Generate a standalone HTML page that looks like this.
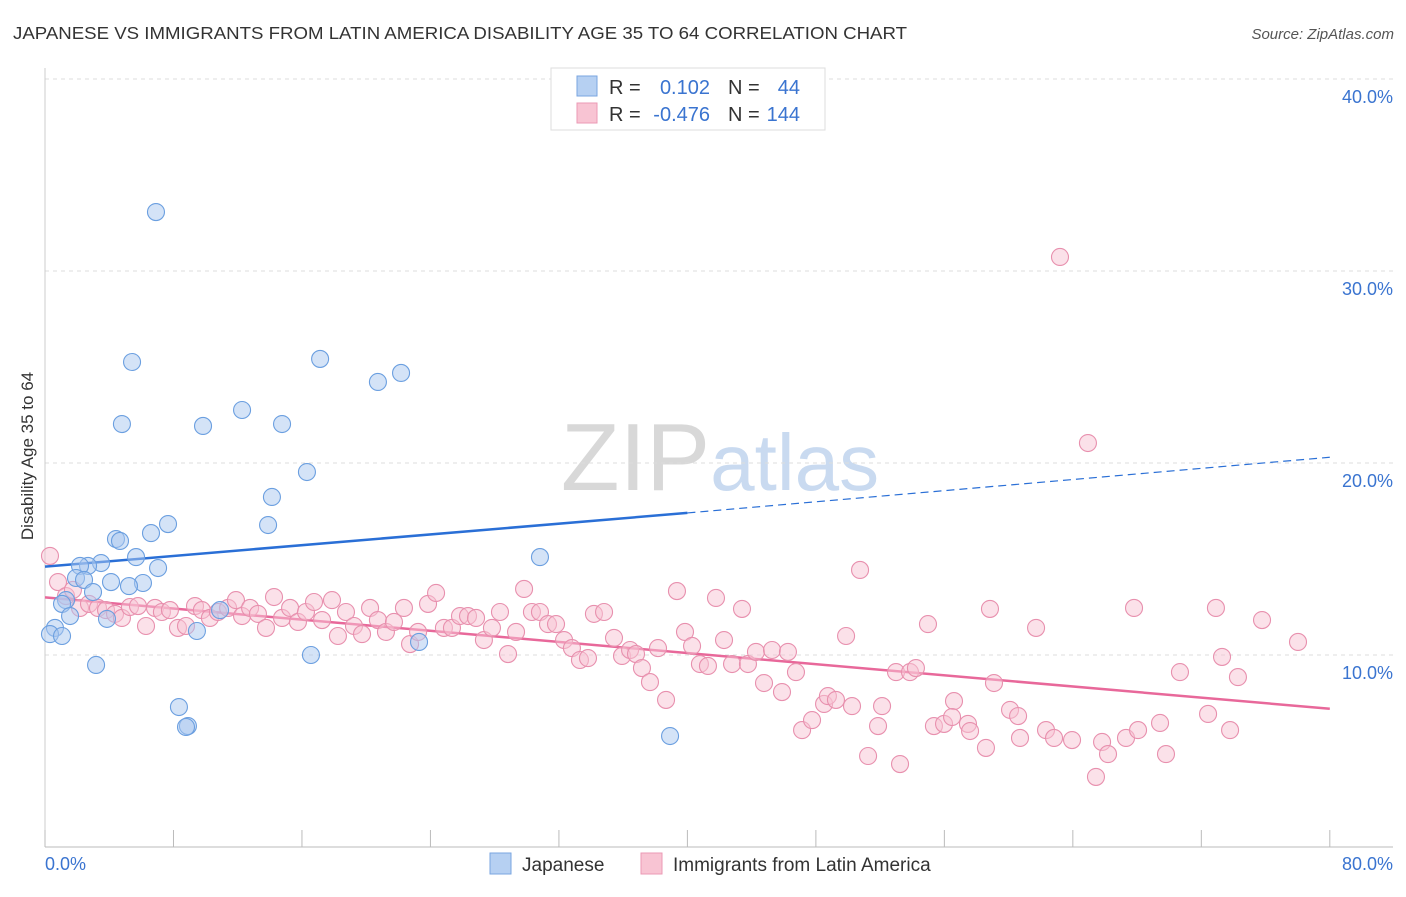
<!DOCTYPE html>
<html><head><meta charset="utf-8">
<style>
body{margin:0;background:#fff;font-family:"Liberation Sans",sans-serif;}
svg text{font-family:"Liberation Sans",sans-serif;}
</style></head>
<body>
<svg id="chart" width="1406" height="892" viewBox="0 0 1406 892" xmlns="http://www.w3.org/2000/svg">
<text x="13" y="39" font-size="17.5" fill="#333" textLength="894" lengthAdjust="spacingAndGlyphs">JAPANESE VS IMMIGRANTS FROM LATIN AMERICA DISABILITY AGE 35 TO 64 CORRELATION CHART</text>
<text x="1394" y="39" font-size="15" fill="#555" text-anchor="end" font-style="italic">Source: ZipAtlas.com</text>
<text x="720" y="490" font-size="96" text-anchor="middle" fill="#ddd" font-family="Liberation Serif"><tspan fill="#d8d8d8">ZIP</tspan><tspan fill="#c9daf0" font-family="Liberation Sans" font-size="80">atlas</tspan></text>
<g id="grid"></g>
<g id="axes"></g>
<g id="trend"></g>
<g id="pts"></g>
<text transform="translate(33,456) rotate(-90)" font-size="17" fill="#333" text-anchor="middle">Disability Age 35 to 64</text>
<g>
<rect x="551" y="68" width="274" height="62" fill="#fff" stroke="#ddd"/>
<rect x="577" y="76" width="20" height="20" fill="#b6d0f2" stroke="#7aa6e0"/>
<rect x="577" y="103" width="20" height="20" fill="#f8c4d3" stroke="#eb9ab5"/>
<text x="609" y="94" font-size="20" fill="#333">R =</text>
<text x="710" y="94" font-size="20" fill="#3a74d0" text-anchor="end">0.102</text>
<text x="728" y="94" font-size="20" fill="#333">N =</text>
<text x="800" y="94" font-size="20" fill="#3a74d0" text-anchor="end">44</text>
<text x="609" y="121" font-size="20" fill="#333">R =</text>
<text x="710" y="121" font-size="20" fill="#3a74d0" text-anchor="end">-0.476</text>
<text x="728" y="121" font-size="20" fill="#333">N =</text>
<text x="800" y="121" font-size="20" fill="#3a74d0" text-anchor="end">144</text>
</g>
<g>
<rect x="490" y="853" width="21" height="21" fill="#b6d0f2" stroke="#7aa6e0"/>
<text x="522" y="871" font-size="19" fill="#333">Japanese</text>
<rect x="641" y="853" width="21" height="21" fill="#f8c4d3" stroke="#eb9ab5"/>
<text x="673" y="871" font-size="19" fill="#333">Immigrants from Latin America</text>
</g>
</svg>
<script>
const yTicks=[10,20,30,40];
const yTickLabels=["10.0%","20.0%","30.0%","40.0%"];
const xTicks=[0,8,16,24,32,40,48,56,64,72,80];
const blueX=[6.91,5.42,4.79,9.84,12.27,14.76,17.13,20.73,22.17,16.31,14.13,13.89,7.66,6.60,4.42,4.67,5.67,7.04,6.10,5.23,4.11,3.49,2.68,2.18,1.93,2.43,2.99,1.31,1.06,1.56,3.86,9.46,0.62,0.31,1.06,3.18,8.34,8.90,8.78,16.56,23.29,30.82,38.92,10.90];
const blueY=[33.07,25.26,22.03,21.93,22.76,22.03,25.42,24.22,24.69,19.53,18.23,16.77,16.82,16.35,16.04,15.94,15.10,14.53,13.75,13.59,13.80,14.79,14.64,14.64,14.01,13.91,13.28,12.86,12.66,12.03,11.88,11.25,11.41,11.09,10.99,9.48,7.29,6.30,6.25,10.00,10.68,15.10,5.78,12.34];
const pinkX=[0.31,0.81,1.31,1.74,2.18,2.74,3.30,3.80,4.36,4.79,5.29,5.79,6.29,6.85,7.28,7.78,8.28,8.78,9.34,9.77,10.27,10.77,11.40,11.89,12.27,12.77,13.26,13.76,14.26,14.76,15.26,15.75,16.25,16.75,17.25,17.87,18.24,18.74,19.24,19.74,20.24,20.73,21.23,21.73,22.35,22.73,23.23,23.85,24.35,24.84,25.34,25.84,26.34,26.84,27.33,27.83,28.33,28.83,29.33,29.83,30.32,30.82,31.32,31.82,32.32,32.81,33.31,33.81,34.18,34.81,35.43,35.93,36.43,36.80,37.17,37.67,38.17,38.67,39.35,39.85,40.29,40.78,41.28,41.78,42.28,42.78,43.40,43.77,44.27,44.77,45.27,45.89,46.26,46.76,47.14,47.76,48.51,48.75,49.25,49.88,50.25,50.75,51.25,51.87,52.12,52.99,53.24,53.86,54.23,54.98,55.35,55.98,56.60,56.48,57.47,57.60,58.59,58.84,59.09,60.09,60.59,60.71,61.71,62.33,62.83,63.20,63.95,64.94,65.44,65.82,66.19,67.31,67.81,68.06,69.43,69.80,70.67,72.42,72.91,73.29,73.79,74.28,75.78,78.02];
const pinkY=[15.16,13.80,13.07,13.39,12.45,12.66,12.45,12.34,12.14,11.93,12.50,12.55,11.51,12.45,12.24,12.34,11.41,11.51,12.55,12.34,11.93,12.24,12.45,12.86,12.03,12.45,12.14,11.41,13.02,11.93,12.45,11.72,12.24,12.76,11.82,12.86,10.99,12.24,11.51,11.09,12.45,11.82,11.20,11.72,12.45,10.57,11.20,12.66,13.23,11.41,11.41,12.03,12.03,11.93,10.78,11.41,12.24,10.05,11.20,13.44,12.24,12.24,11.61,11.61,10.78,10.36,9.74,9.84,12.14,12.24,10.89,9.95,10.26,10.05,9.32,8.59,10.36,7.66,13.33,11.20,10.47,9.53,9.43,12.97,10.78,9.53,12.40,9.53,10.16,8.54,10.26,8.07,10.16,9.11,6.09,6.61,7.45,7.86,7.66,10.99,7.34,14.43,4.74,6.30,7.34,9.11,4.32,9.11,9.32,11.61,6.30,6.41,7.60,6.77,6.41,6.04,5.16,12.40,8.54,7.14,6.82,5.68,11.41,6.09,5.68,30.73,5.57,21.04,3.65,5.47,4.84,5.68,12.45,6.09,6.46,4.84,9.11,6.93,12.45,9.90,6.09,8.85,11.82,10.68];
const blueTrend=[14.6,17.4,20.3];
const pinkTrend=[13.0,7.2];
const NS="http://www.w3.org/2000/svg";
const X=v=>45+v*16.06, Y=v=>847-v*19.2;
function mk(tag,parent,attrs){const e=document.createElementNS(NS,tag);for(const k in attrs)e.setAttribute(k,attrs[k]);parent.appendChild(e);return e;}
const grid=document.getElementById('grid'),axes=document.getElementById('axes'),tr=document.getElementById('trend'),pts=document.getElementById('pts');
yTicks.forEach((t,i)=>{
  const l=mk('line',grid,{x1:45,x2:1393,y1:Y(t),y2:Y(t),stroke:'#ddd','stroke-dasharray':'4,4'});
  
  
  const tx=mk('text',axes,{x:1393,y:Y(t)+24,'font-size':18,fill:'#3a74d0','text-anchor':'end'});
  tx.textContent=yTickLabels[i];
  
  
});
const ax=mk('line',axes,{x1:45,x2:1393,y1:847,y2:847,stroke:'#bbb'});


const ay=mk('line',axes,{x1:45,x2:45,y1:68,y2:847,stroke:'#ccc'});


xTicks.forEach(t=>{const l=mk('line',axes,{x1:X(t),x2:X(t),y1:830,y2:847,stroke:'#bbb'});
  
  });
const xl0=mk('text',axes,{x:45,y:870,'font-size':18,fill:'#3a74d0'});xl0.textContent='0.0%';


const xl1=mk('text',axes,{x:1393,y:870,'font-size':18,fill:'#3a74d0','text-anchor':'end'});xl1.textContent='80.0%';


function drawPts(xs,ys,fill,stroke,name){xs.forEach((x,i)=>{const c=mk('circle',pts,{cx:X(x),cy:Y(ys[i]),r:8.5,fill:fill,'fill-opacity':0.5,stroke:stroke,'stroke-width':1.1});
  
  });}
drawPts(pinkX,pinkY,'#f8c4d3','#e890ae','pink-point');
drawPts(blueX,blueY,'#a9c8ef','#6b9fe0','blue-point');
const b1=mk('line',tr,{x1:X(0),y1:Y(blueTrend[0]),x2:X(40),y2:Y(blueTrend[1]),stroke:'#2a6fd6','stroke-width':2.5});


const b2=mk('line',tr,{x1:X(40),y1:Y(blueTrend[1]),x2:X(80),y2:Y(blueTrend[2]),stroke:'#2a6fd6','stroke-width':1.2,'stroke-dasharray':'8,5'});


const p1=mk('line',tr,{x1:X(0),y1:Y(pinkTrend[0]),x2:X(80),y2:Y(pinkTrend[1]),stroke:'#e8689a','stroke-width':2.5});


</script>
</body></html>
